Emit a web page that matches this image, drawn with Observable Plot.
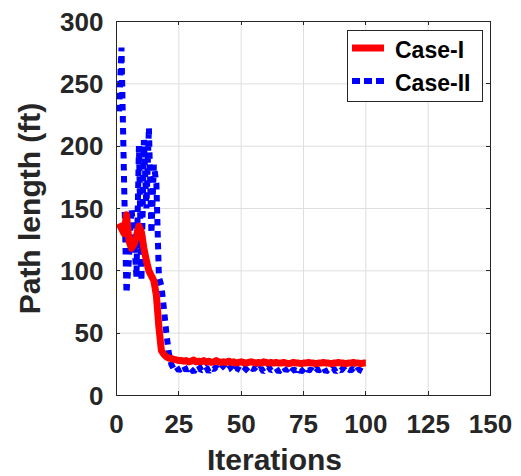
<!DOCTYPE html>
<html>
<head>
<meta charset="utf-8">
<script src="https://cdn.jsdelivr.net/npm/d3@7"></script>
<script src="https://cdn.jsdelivr.net/npm/@observablehq/plot@0.6"></script>
<style>
  html, body { margin: 0; padding: 0; background: #fff; }
  #chart { position: relative; width: 521px; height: 476px; }
</style>
</head>
<body>
<div id="chart"></div>
<script>
// ---- data ----
const iterations = d3.range(1, 101);
const caseI = [
  138, 134, 130, 145, 124, 118, 121, 128, 136, 131, 118, 108, 100, 96, 92, 80, 55, 36, 33, 31, 30, 29.5, 29, 28.5, 28,
  28, 27.5, 28, 27, 27.5, 28.5, 27, 27.5, 27, 28, 27, 27.5, 26.5, 27, 28, 27, 26.5, 27, 26.5, 27.5, 26.5, 27, 26, 26.5, 27,
  26.5, 26, 26.5, 27, 26.5, 26, 26.5, 26, 27, 26.5, 26, 26.5, 26, 26.5, 26, 26, 26.5, 26, 25.5, 26, 26.5, 26, 26, 25.5, 26,
  26, 26.5, 26, 26, 25.5, 26, 26, 26.5, 26, 26, 25.5, 26, 26, 26.5, 26, 26, 25.5, 26, 26, 26.5, 26, 26, 25.5, 26, 26
];
const caseII = [
  228, 279, 175, 82, 110, 150, 128, 95, 200, 92, 205, 150, 215, 130, 185, 170, 95, 88, 70, 50, 34, 25, 21, 23, 20,
  22, 24, 20, 23, 21, 19, 22, 24, 20, 21, 23, 19, 22, 21, 23, 20, 22, 24, 20, 21, 23, 19, 22, 21, 20,
  23, 21, 19, 22, 21, 23, 20, 22, 19, 21, 23, 20, 21, 22, 19, 21, 23, 20, 22, 19, 21, 20, 22, 19, 21,
  23, 20, 21, 19, 22, 20, 21, 23, 19, 21, 20, 22, 19, 21, 20, 22, 19, 21, 20, 22, 19, 21, 20, 19, 21
];
const xTicks = [0, 25, 50, 75, 100, 125, 150];
const yTicks = [0, 50, 100, 150, 200, 250, 300];
const seriesNames = ["Case-I", "Case-II"];
const xLabel = "Iterations";
const yLabel = "Path length (ft)";

const rowsI = iterations.map((x, i) => ({x, y: caseI[i]}));
const rowsII = iterations.map((x, i) => ({x, y: caseII[i]}));

const FONT = "'Liberation Sans', Arial, Helvetica, sans-serif";
const INK = "#262626";

const chart = Plot.plot({
  width: 521,
  height: 476,
  marginLeft: 116,
  marginRight: 31,
  marginTop: 21,
  marginBottom: 81,
  style: {fontFamily: FONT, color: INK, background: "#fff", overflow: "visible"},
  x: {domain: [0, 150]},
  y: {domain: [0, 300]},
  marks: [
    Plot.gridX(xTicks, {stroke: "#dedede", strokeOpacity: 1, strokeWidth: 1}),
    Plot.gridY(yTicks, {stroke: "#dedede", strokeOpacity: 1, strokeWidth: 1}),
    Plot.line(rowsII, {x: "x", y: "y", stroke: "#0000ff", strokeWidth: 6,
      strokeDasharray: "6.5,5.5", strokeLinecap: "butt", strokeLinejoin: "miter"}),
    Plot.line(rowsI, {x: "x", y: "y", stroke: "#ff0000", strokeWidth: 7,
      strokeLinejoin: "round", strokeLinecap: "butt"}),
    Plot.frame({stroke: INK, strokeWidth: 1}),
    Plot.axisX({anchor: "bottom", ticks: xTicks, tickSize: 0, tickPadding: 19, label: null,
      fontSize: 26, fontWeight: "bold", fill: INK}),
    Plot.axisY({anchor: "left", ticks: yTicks, tickSize: 0, tickPadding: 13, label: null,
      fontSize: 26, fontWeight: "bold", fill: INK, dy: 1}),
    Plot.text([xLabel], {text: d => d, frameAnchor: "bottom", textAnchor: "middle", lineAnchor: "middle",
      dx: -29, dy: 65, fontSize: 30, fontWeight: "bold", fill: INK}),
    Plot.text([yLabel], {text: d => d, frameAnchor: "left", textAnchor: "middle", lineAnchor: "middle",
      rotate: -90, dx: -86, fontSize: 30, fontWeight: "bold", fill: INK})
  ]
});
document.getElementById("chart").appendChild(chart);

// inward ticks on all four sides + legend
const svg = d3.select(chart);
const xs = chart.scale("x"), ys = chart.scale("y");
const L = 116, R = 521 - 31, T = 21, B = 476 - 81, TL = 4;
const tg = svg.append("g").attr("stroke", INK).attr("stroke-width", 1);
xTicks.forEach(v => {
  const px = Math.round(xs.apply(v)) + 0.5;
  tg.append("line").attr("x1", px).attr("x2", px).attr("y1", B).attr("y2", B - TL);
  tg.append("line").attr("x1", px).attr("x2", px).attr("y1", T).attr("y2", T + TL);
});
yTicks.forEach(v => {
  const py = Math.round(ys.apply(v)) + 0.5;
  tg.append("line").attr("y1", py).attr("y2", py).attr("x1", L).attr("x2", L + TL);
  tg.append("line").attr("y1", py).attr("y2", py).attr("x1", R).attr("x2", R - TL);
});

const lg = svg.append("g");
lg.append("rect").attr("x", 347.5).attr("y", 30.5).attr("width", 135).attr("height", 71)
  .attr("fill", "#fff").attr("stroke", INK).attr("stroke-width", 1);
const legendStyles = [
  {stroke: "#ff0000", width: 7, dash: null},
  {stroke: "#0000ff", width: 6, dash: "8,4"}
];
seriesNames.forEach((name, i) => {
  const cy = 48 + i * 33;
  const s = legendStyles[i];
  const ln = lg.append("line").attr("x1", 352).attr("x2", 384).attr("y1", cy).attr("y2", cy)
    .attr("stroke", s.stroke).attr("stroke-width", s.width);
  if (s.dash) ln.attr("stroke-dasharray", s.dash);
  lg.append("text").attr("x", 395).attr("y", cy + 10).text(name)
    .attr("text-anchor", "start")
    .attr("font-family", FONT).attr("font-weight", "bold").attr("font-size", 23).attr("fill", "#000");
});
</script>
</body>
</html>
